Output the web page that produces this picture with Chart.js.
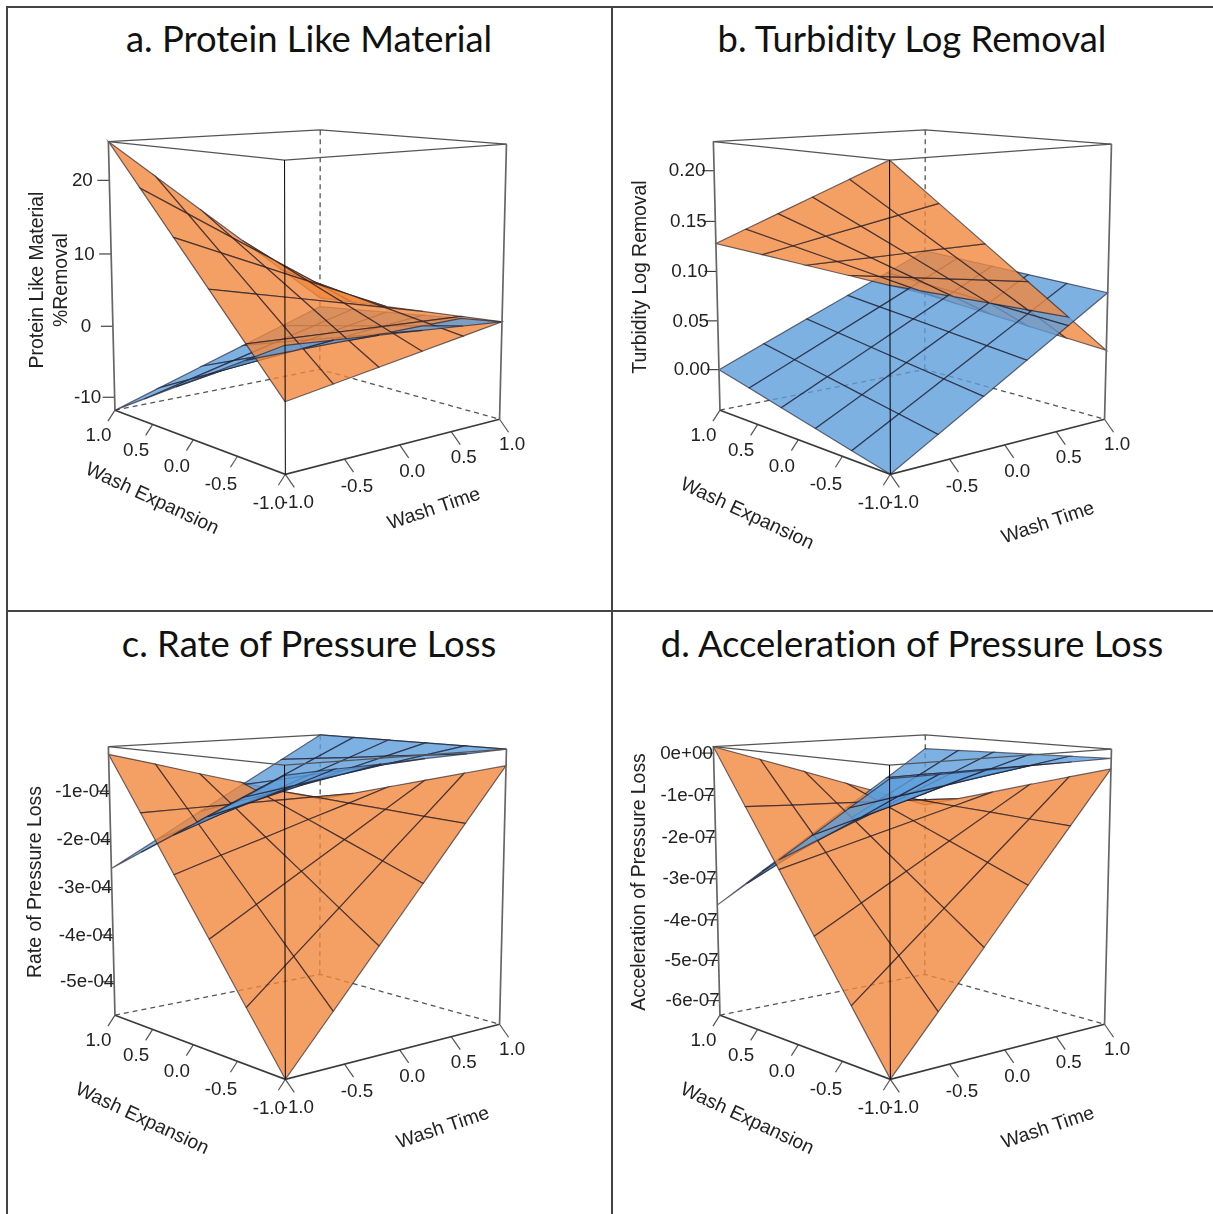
<!DOCTYPE html>
<html><head><meta charset="utf-8">
<script src="https://cdn.jsdelivr.net/npm/chart.js@4"></script>
<style>
html,body{margin:0;padding:0;background:#fff;overflow:hidden}
body{width:1213px;height:1214px;position:relative}
.frame{position:absolute;background:#444}
.ttl{position:absolute;font-family:Lato,sans-serif;font-size:36.4px;font-variant-ligatures:none;color:#111;text-align:center;height:44px;line-height:44px;white-space:nowrap}
canvas{position:absolute}
</style></head><body>
<div class="frame" style="left:6px;top:6px;width:1207px;height:2px"></div>
<div class="frame" style="left:6px;top:6px;width:2px;height:1208px"></div>
<div class="frame" style="left:611px;top:6px;width:2px;height:1208px"></div>
<div class="frame" style="left:6px;top:610px;width:1207px;height:2px"></div>
<div class="ttl" style="left:7px;width:604px;top:16px">a. Protein Like Material</div>
<div class="ttl" style="left:611px;width:602px;top:16px">b. Turbidity Log Removal</div>
<div class="ttl" style="left:7px;width:604px;top:621px">c. Rate of Pressure Loss</div>
<div class="ttl" style="left:611px;width:602px;top:621px">d. Acceleration of Pressure Loss</div>
<canvas id="pa" width="608" height="609" style="left:0;top:0"></canvas>
<canvas id="pb" width="608" height="609" style="left:605px;top:0"></canvas>
<canvas id="pc" width="608" height="609" style="left:0;top:605px"></canvas>
<canvas id="pd" width="608" height="609" style="left:605px;top:605px"></canvas>
<script>
// grid points for both factors (rows = wash expansion, columns = wash time)
const washNodes = [-1, -0.6, -0.2, 0.2, 0.6, 1];
const axisTicks = [-1, -0.5, 0, 0.5, 1];
const axisTickLabels = ['-1.0', '-0.5', '0.0', '0.5', '1.0'];

const proteinTicks = [20, 10, 0, -10];
const proteinTickLabels = ['20', '10', '0', '-10'];
const turbidityTicks = [0.2, 0.15, 0.1, 0.05, 0];
const turbidityTickLabels = ['0.20', '0.15', '0.10', '0.05', '0.00'];
const rateTicks = [-1, -2, -3, -4, -5];
const rateTickLabels = ['-1e-04', '-2e-04', '-3e-04', '-4e-04', '-5e-04'];
const accelTicks = [0, -1, -2, -3, -4, -5, -6];
const accelTickLabels = ['0e+00', '-1e-07', '-2e-07', '-3e-07', '-4e-07', '-5e-07', '-6e-07'];

const proteinOrange = [
  [-3.03, -2.11, -1.19, -0.27, 0.65, 1.57],
  [2.61, 2.32, 2.03, 1.73, 1.44, 1.15],
  [8.26, 6.75, 5.25, 3.74, 2.24, 0.73],
  [13.9, 11.18, 8.46, 5.74, 3.02, 0.3],
  [19.55, 15.62, 11.68, 7.75, 3.81, -0.12],
  [25.19, 20.04, 14.9, 9.75, 4.61, -0.54],
];
const proteinBlue = [
  [3.72, 3.29, 2.86, 2.43, 2.0, 1.57],
  [0.61, 0.66, 0.71, 0.77, 0.82, 0.87],
  [-2.5, -1.97, -1.43, -0.9, -0.36, 0.17],
  [-5.62, -4.6, -3.58, -2.56, -1.54, -0.52],
  [-8.73, -7.23, -5.73, -4.22, -2.72, -1.22],
  [-11.84, -9.86, -7.87, -5.89, -3.9, -1.92],
];
const turbidityOrange = [
  [0.2285, 0.1883, 0.1481, 0.1079, 0.0677, 0.0275],
  [0.2084, 0.1729, 0.1375, 0.102, 0.0665, 0.031],
  [0.1883, 0.1575, 0.1268, 0.096, 0.0653, 0.0345],
  [0.1682, 0.1422, 0.1161, 0.0901, 0.0641, 0.038],
  [0.1481, 0.1268, 0.1055, 0.0841, 0.0628, 0.0415],
  [0.128, 0.1114, 0.0948, 0.0782, 0.0616, 0.045],
];
const turbidityBlue = [
  [-0.042, -0.0167, 0.0087, 0.034, 0.0594, 0.0847],
  [-0.0336, -0.0096, 0.0145, 0.0385, 0.0625, 0.0866],
  [-0.0252, -0.0025, 0.0202, 0.043, 0.0657, 0.0884],
  [-0.0168, 0.0046, 0.026, 0.0475, 0.0689, 0.0903],
  [-0.0084, 0.0117, 0.0318, 0.0519, 0.072, 0.0921],
  [0, 0.0188, 0.0376, 0.0564, 0.0752, 0.094],
];
// units of 1e-04
const rateOrange = [
  [-5.72, -4.66, -3.6, -2.54, -1.48, -0.42],
  [-4.63, -3.83, -3.04, -2.24, -1.45, -0.65],
  [-3.53, -3.0, -2.47, -1.94, -1.41, -0.88],
  [-2.44, -2.17, -1.91, -1.64, -1.38, -1.11],
  [-1.34, -1.34, -1.34, -1.34, -1.34, -1.34],
  [-0.25, -0.51, -0.78, -1.04, -1.31, -1.57],
];
const rateBlue = [
  [-0.27, -0.23, -0.2, -0.16, -0.13, -0.09],
  [-0.74, -0.61, -0.48, -0.35, -0.22, -0.09],
  [-1.2, -0.98, -0.76, -0.53, -0.31, -0.09],
  [-1.67, -1.35, -1.04, -0.72, -0.41, -0.09],
  [-2.13, -1.72, -1.31, -0.91, -0.5, -0.09],
  [-2.6, -2.1, -1.59, -1.09, -0.59, -0.09],
];
// units of 1e-07
const accelOrange = [
  [-6.36, -5.15, -3.94, -2.72, -1.51, -0.3],
  [-5.06, -4.16, -3.27, -2.37, -1.48, -0.58],
  [-3.76, -3.18, -2.6, -2.02, -1.44, -0.86],
  [-2.45, -2.19, -1.93, -1.67, -1.41, -1.15],
  [-1.15, -1.21, -1.26, -1.32, -1.37, -1.43],
  [0.15, -0.22, -0.59, -0.97, -1.34, -1.71],
];
const accelBlue = [
  [-0.12, -0.11, -0.1, -0.08, -0.07, -0.06],
  [-0.82, -0.67, -0.53, -0.38, -0.24, -0.09],
  [-1.53, -1.25, -0.97, -0.68, -0.4, -0.12],
  [-2.23, -1.81, -1.4, -0.98, -0.57, -0.15],
  [-2.94, -2.39, -1.84, -1.28, -0.73, -0.18],
  [-3.64, -2.95, -2.27, -1.58, -0.9, -0.21],
];

// camera fitted to the box corners
const theta = 0.6977, phi = 0.1735, dist = 9.9561, focal = 1382.21, centerX = 304.94, centerY = 281.08, zStretch = 0.9935;
const orangeFill = 'rgba(241,136,61,0.8)';
const blueFill = 'rgba(92,158,219,0.8)';
const meshLine = 'rgba(25,20,35,0.62)';
const boxLine = '#555';

function project(X, Y, Z) {
  const xr = X * Math.cos(theta) - Y * Math.sin(theta);
  const yr = X * Math.sin(theta) + Y * Math.cos(theta);
  const zz = Z * zStretch;
  const up = yr * Math.sin(phi) + zz * Math.cos(phi);
  const depth = yr * Math.cos(phi) - zz * Math.sin(phi);
  const s = focal / (dist + depth);
  return { x: centerX + s * xr, y: centerY - s * up, depth };
}

function lineSet(points, color, width, dash) {
  return { data: points, showLine: true, fill: false, borderColor: color, borderWidth: width, borderDash: dash || [], pointRadius: 0, tension: 0 };
}

function buildPanel(id, opt) {
  const toZ = (z) => (2 * (z - opt.zMin)) / (opt.zMax - opt.zMin) - 1;
  const cells = [];
  [[opt.blue, blueFill], [opt.orange, orangeFill]].forEach(([grid, color]) => {
    for (let j = 0; j < 5; j++) {
      for (let i = 0; i < 5; i++) {
        const pts = [[i, j], [i + 1, j], [i + 1, j + 1], [i, j + 1]].map(([a, b]) => project(washNodes[a], washNodes[b], toZ(grid[b][a])));
        const depth = pts.reduce((s, p) => s + p.depth, 0) / 4;
        const path = pts.concat([pts[0]]).map((p) => ({ x: p.x, y: p.y }));
        cells.push({ depth, path, color });
      }
    }
  });
  // nearest cell first: chart.js paints the last dataset first
  cells.sort((a, b) => a.depth - b.depth);
  const cellSets = cells.map((c) => ({
    data: c.path, showLine: true, fill: 'shape', backgroundColor: c.color, borderColor: meshLine, borderWidth: 1.2, pointRadius: 0, tension: 0,
  }));

  const L0 = project(-1, 1, -1), L1 = project(-1, 1, 1);
  const F0 = project(-1, -1, -1), F1 = project(-1, -1, 1);
  const R0 = project(1, -1, -1), R1 = project(1, -1, 1);
  const B0 = project(1, 1, -1), B1 = project(1, 1, 1);

  const front = [
    lineSet([F0, F1], '#000', 1),
    lineSet([L1, F1, R1], boxLine, 1.3),
    lineSet([L0, L1], '#666', 1.7),
    lineSet([R0, R1], '#666', 1.7),
    lineSet([L0, F0, R0], '#3a3a3a', 1.6),
  ];
  axisTicks.forEach((t) => {
    const a = project(t, -1, -1);
    front.push(lineSet([a, { x: a.x + 9, y: a.y + 13 }], boxLine, 1.2));
    const b = project(-1, t, -1);
    front.push(lineSet([b, { x: b.x - 7, y: b.y + 11 }], boxLine, 1.2));
  });
  opt.ticks.forEach((z) => {
    const a = project(-1, 1, toZ(z));
    front.push(lineSet([a, { x: a.x - 12, y: a.y }], '#333', 1.1));
  });
  const back = [
    lineSet([L1, B1, R1], boxLine, 1.3),
    lineSet([B0, B1], boxLine, 1.3, [5, 4]),
    lineSet([L0, B0, R0], boxLine, 1.3, [5, 4]),
  ];

  const textPlugin = {
    id: 'axisText',
    afterDraw(chart) {
      const { ctx, scales } = chart;
      const px = (x) => scales.x.getPixelForValue(x);
      const py = (y) => scales.y.getPixelForValue(y);
      ctx.save();
      ctx.fillStyle = '#222';
      ctx.textAlign = 'center';
      ctx.textBaseline = 'middle';
      ctx.font = '18.8px "Liberation Sans"';
      axisTicks.forEach((t, k) => {
        const a = project(t, -1, -1);
        ctx.fillText(axisTickLabels[k], px(a.x + 12.5), py(a.y + 25.5 + (a.y - 421) * 0.06));
        const b = project(-1, t, -1);
        ctx.fillText(axisTickLabels[k], px(b.x - 16.5), py(b.y + 26 + (b.y - 410) * 0.05));
      });
      opt.ticks.forEach((z, k) => {
        const a = project(-1, 1, toZ(z));
        ctx.fillText(opt.tickLabels[k], px(a.x - 27), py(a.y + 0.5));
      });
      const rotated = (text, x, y, angle) => {
        ctx.save();
        ctx.translate(px(x), py(y));
        ctx.rotate((angle * Math.PI) / 180);
        ctx.fillText(text, 0, 0);
        ctx.restore();
      };
      ctx.font = '19.4px "Liberation Sans"';
      rotated('Wash Expansion', opt.expAt[0], opt.expAt[1], 25);
      rotated('Wash Time', opt.timeAt[0], opt.timeAt[1], -18.5);
      opt.title.forEach((t, k) => rotated(t, opt.titleAt[k][0], opt.titleAt[k][1], -90));
      ctx.restore();
    },
  };

  new Chart(document.getElementById(id), {
    type: 'scatter',
    data: { datasets: front.concat(cellSets, back) },
    options: {
      responsive: false,
      animation: false,
      events: [],
      layout: { padding: 0 },
      plugins: { legend: { display: false }, tooltip: { enabled: false } },
      scales: {
        x: { type: 'linear', display: false, min: 0, max: 608 },
        y: { type: 'linear', display: false, min: 0, max: 609, reverse: true },
      },
    },
    plugins: [textPlugin],
  });
}

buildPanel('pa', { blue: proteinBlue, orange: proteinOrange, zMin: -11.84, zMax: 25.19, ticks: proteinTicks, tickLabels: proteinTickLabels,
  title: ['Protein Like Material', '%Removal'], titleAt: [[38, 280], [62, 280]], expAt: [152, 499], timeAt: [434, 509] });
buildPanel('pb', { blue: turbidityBlue, orange: turbidityOrange, zMin: -0.042, zMax: 0.2285, ticks: turbidityTicks, tickLabels: turbidityTickLabels,
  title: ['Turbidity Log Removal'], titleAt: [[36, 277]], expAt: [142, 514], timeAt: [443, 523] });
buildPanel('pc', { blue: rateBlue, orange: rateOrange, zMin: -5.72, zMax: -0.092, ticks: rateTicks, tickLabels: rateTickLabels,
  title: ['Rate of Pressure Loss'], titleAt: [[36, 277]], expAt: [142, 514], timeAt: [443, 523] });
buildPanel('pd', { blue: accelBlue, orange: accelOrange, zMin: -6.364, zMax: 0.153, ticks: accelTicks, tickLabels: accelTickLabels,
  title: ['Acceleration of Pressure Loss'], titleAt: [[35, 277]], expAt: [142, 514], timeAt: [443, 523] });
</script>
</body></html>
